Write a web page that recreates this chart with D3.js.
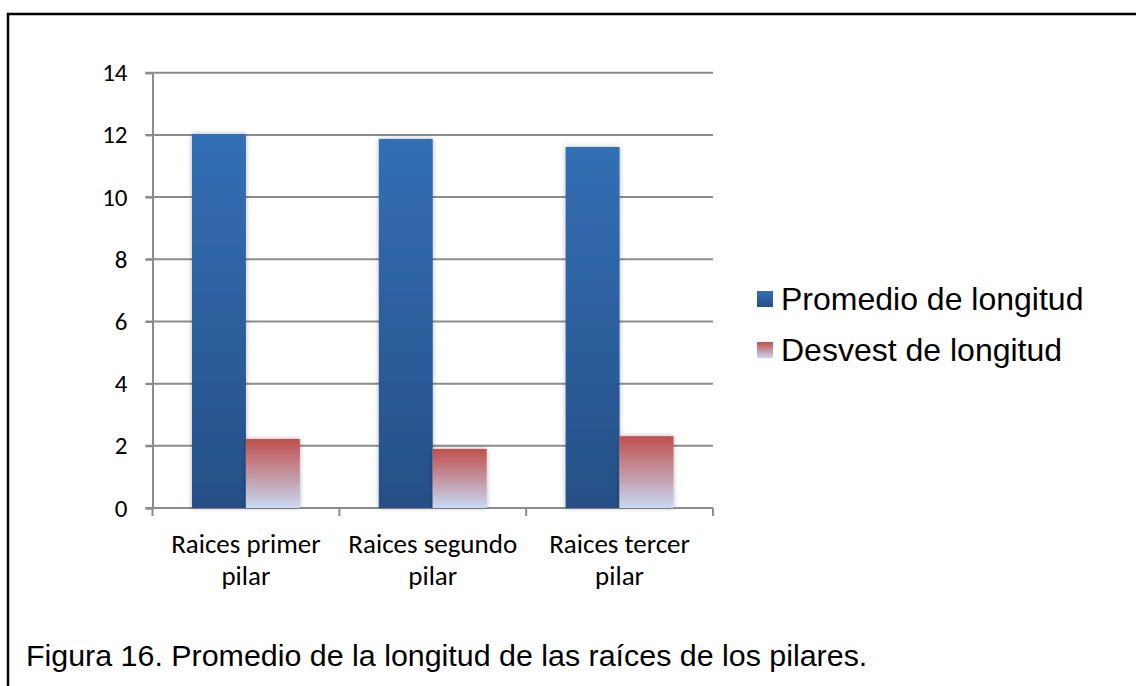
<!DOCTYPE html>
<html>
<head>
<meta charset="utf-8">
<script src="https://cdn.jsdelivr.net/npm/d3@7"></script>
<style>
  html, body { margin: 0; padding: 0; background: #fff; }
  svg { display: block; }
</style>
</head>
<body>
<svg id="chart" width="1136" height="686"></svg>
<script>
// Data
const categories = ["Raices primer pilar", "Raices segundo pilar", "Raices tercer pilar"];
const seriesNames = ["Promedio de longitud", "Desvest de longitud"];
const promedio = [12.03, 11.87, 11.61];
const desvest = [2.22, 1.90, 2.31];
const yTicks = [0, 2, 4, 6, 8, 10, 12, 14];
const caption = "Figura 16. Promedio de la longitud de las raíces de los pilares.";

const rows = categories.map((c, i) => ({ cat: c, values: [promedio[i], desvest[i]] }));

const svg = d3.select("#chart");
const W = 1136, H = 686;
svg.append("rect").attr("width", W).attr("height", H).attr("fill", "#fff");

// Gradients and bar shadow
const defs = svg.append("defs");
const gBlue = defs.append("linearGradient").attr("id", "gradBlue")
  .attr("x1", 0).attr("y1", 0).attr("x2", 0).attr("y2", 1);
gBlue.append("stop").attr("offset", "0%").attr("stop-color", "#336fb5");
gBlue.append("stop").attr("offset", "100%").attr("stop-color", "#264f86");
const gRed = defs.append("linearGradient").attr("id", "gradRed")
  .attr("x1", 0).attr("y1", 0).attr("x2", 0).attr("y2", 1);
gRed.append("stop").attr("offset", "0%").attr("stop-color", "#c0504d");
gRed.append("stop").attr("offset", "55%").attr("stop-color", "#c39aa6");
gRed.append("stop").attr("offset", "100%").attr("stop-color", "#c8d9f3");
const shadow = defs.append("filter").attr("id", "barShadow")
  .attr("x", "-30%").attr("y", "-10%").attr("width", "160%").attr("height", "120%");
shadow.append("feDropShadow").attr("dx", 0).attr("dy", 0)
  .attr("stdDeviation", 2.5).attr("flood-color", "#000").attr("flood-opacity", 0.3);

const fills = ["url(#gradBlue)", "url(#gradRed)"];

// Frame
svg.append("path").attr("d", `M8,${H} V14 H${W}`)
  .attr("fill", "none").attr("stroke", "#000").attr("stroke-width", 2.5);

// Scales
const plotLeft = 152.5, plotRight = 713, plotBottom = 508, plotTop = 72.7;
const y = d3.scaleLinear().domain([0, 14]).range([plotBottom, plotTop]);
const x0 = d3.scaleBand().domain(categories).range([plotLeft, plotRight])
  .paddingInner(0.4225).paddingOuter(0.21125);
const x1 = d3.scaleBand().domain(seriesNames).range([0, x0.bandwidth()]);

const gridColor = "#8c8c8c";
const labelFont = "Calibri, Carlito, Lato, sans-serif";

// Horizontal gridlines (with outward tick)
svg.append("g").selectAll("line").data(yTicks.filter(t => t > 0)).join("line")
  .attr("x1", plotLeft - 7).attr("x2", plotRight)
  .attr("y1", d => y(d)).attr("y2", d => y(d))
  .attr("stroke", gridColor).attr("stroke-width", 2);

// Y axis
const yAxis = svg.append("g").attr("transform", `translate(${plotLeft},0)`)
  .call(d3.axisLeft(y).tickValues(yTicks).tickSize(7).tickPadding(18).tickFormat(d3.format("d")));
yAxis.select(".domain").attr("stroke", gridColor).attr("stroke-width", 2);
yAxis.selectAll(".tick line").attr("stroke", gridColor).attr("stroke-width", 2);
yAxis.selectAll(".tick text")
  .attr("font-family", labelFont).attr("font-size", 25)
  .attr("fill", "#000");

// X axis
const xTickPos = [plotLeft, ...categories.map(c => x0(c) - x0.step() * x0.paddingInner() / 2 + x0.step())];
const xAxis = svg.append("g");
xAxis.append("line").attr("x1", plotLeft - 7).attr("x2", plotRight)
  .attr("y1", plotBottom).attr("y2", plotBottom)
  .attr("stroke", gridColor).attr("stroke-width", 2);
xAxis.selectAll("line.tk").data(xTickPos).join("line").attr("class", "tk")
  .attr("x1", d => d).attr("x2", d => d)
  .attr("y1", plotBottom).attr("y2", plotBottom + 8)
  .attr("stroke", gridColor).attr("stroke-width", 2);

// Category labels, two lines each
const catLabels = xAxis.selectAll("text.cat").data(categories).join("text").attr("class", "cat")
  .attr("text-anchor", "middle")
  .attr("font-family", labelFont).attr("font-size", 27)
  .attr("fill", "#000");
catLabels.each(function(d) {
  const cut = d.lastIndexOf(" ");
  const lines = [d.slice(0, cut), d.slice(cut + 1)];
  const cx = x0(d) + x0.bandwidth() / 2;
  d3.select(this).selectAll("tspan").data(lines).join("tspan")
    .attr("x", cx).attr("y", (l, i) => 553 + i * 32).text(l => l);
});

// Bars
const groups = svg.append("g").selectAll("g").data(rows).join("g")
  .attr("transform", d => `translate(${x0(d.cat)},0)`);
groups.selectAll("rect").data(d => d.values.map((v, i) => ({ name: seriesNames[i], v, i })))
  .join("rect")
  .attr("x", d => x1(d.name))
  .attr("width", x1.bandwidth())
  .attr("y", d => y(d.v))
  .attr("height", d => y(0) - y(d.v))
  .attr("fill", d => fills[d.i])
  .attr("filter", "url(#barShadow)");

// Legend
const legend = svg.append("g").selectAll("g").data(seriesNames).join("g")
  .attr("transform", (d, i) => `translate(757,${291 + i * 51})`);
legend.append("rect").attr("width", 16).attr("height", 16)
  .attr("fill", (d, i) => fills[i]);
legend.append("text").attr("x", 24).attr("y", 19)
  .attr("font-family", "Arial, 'Liberation Sans', sans-serif").attr("font-size", 32)
  .attr("fill", "#000").text(d => d);

// Caption
svg.append("text").attr("x", 26).attr("y", 666)
  .attr("font-family", "Arial, 'Liberation Sans', sans-serif").attr("font-size", 30.4)
  .attr("fill", "#000").text(caption);
</script>
</body>
</html>
